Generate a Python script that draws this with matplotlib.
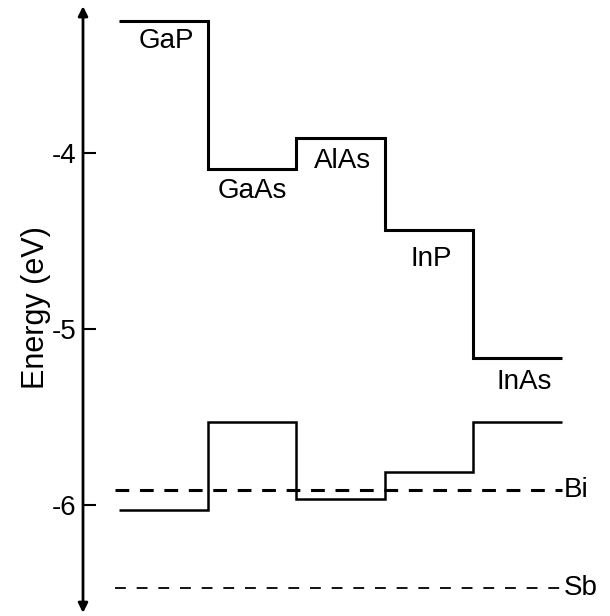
import matplotlib
matplotlib.use('Agg')
import matplotlib.pyplot as plt
import numpy as np

plt.rcParams['font.family'] = ['Liberation Sans', 'DejaVu Sans']

# conduction band minima / valence band maxima (eV)
materials = ['GaP', 'GaAs', 'AlAs', 'InP', 'InAs']
conduction = [-3.25, -4.09, -3.915, -4.44, -5.165]
valence = [-6.03, -5.53, -5.965, -5.81, -5.53]
dopant_names = ['Bi', 'Sb']
dopant_levels = [-5.915, -6.47]
yticks = [-4, -5, -6]

# label placement (x in material index, y in eV)
label_x = [0.54, 1.51, 2.52, 3.52, 4.57]
label_y = [-3.29, -4.14, -3.97, -4.53, -5.23]

W, H = 610, 616
fig = plt.figure(figsize=(W / 100, H / 100), dpi=100)
x0 = 83
ax = fig.add_axes([x0 / W, 0, (W - x0) / W, 1])

px_per_ev = 176.0
top_e = -4 + 153 / px_per_ev
bot_e = -6 - (H - 505) / px_per_ev
ax.set_ylim(bot_e, top_e)
px_per_x = 88.6
off = 36
ax.set_xlim(-off / px_per_x, (W - x0 - off) / px_per_x)

edges = np.arange(len(materials) + 1)
ax.stairs(conduction, edges, baseline=None, color='black', lw=2.2)
ax.stairs(valence, edges, baseline=None, color='black', lw=1.8)

ax.hlines(dopant_levels[0], -0.05, 5.0, colors='black', lw=2.2,
          linestyles=(0, (4.5, 3.5)))
ax.hlines(dopant_levels[1], -0.05, 5.0, colors='black', lw=1.3,
          linestyles=(0, (6, 6)))
for name, lev in zip(dopant_names, dopant_levels):
    ax.text(5.02, lev, name, fontsize=20, va='center', ha='left')

for name, lx, ly in zip(materials, label_x, label_y):
    ax.text(lx, ly, name, fontsize=20, ha='center', va='top')

# axis as a double-headed arrow
for s in ['top', 'right', 'bottom', 'left']:
    ax.spines[s].set_visible(False)
ax.annotate('', xy=(0, 0.99), xytext=(0, 0.005), xycoords='axes fraction',
            arrowprops=dict(arrowstyle='<|-|>', color='black', lw=2,
                            mutation_scale=14, shrinkA=0, shrinkB=0))
ax.set_xticks([])
ax.set_yticks(yticks)
ax.set_yticklabels([str(t) for t in yticks], fontsize=20)
ax.tick_params(axis='y', direction='in', length=9, width=1.5, pad=5)
ax.set_ylabel('Energy (eV)', fontsize=22, labelpad=0)

fig.savefig('out.png', dpi=100)
